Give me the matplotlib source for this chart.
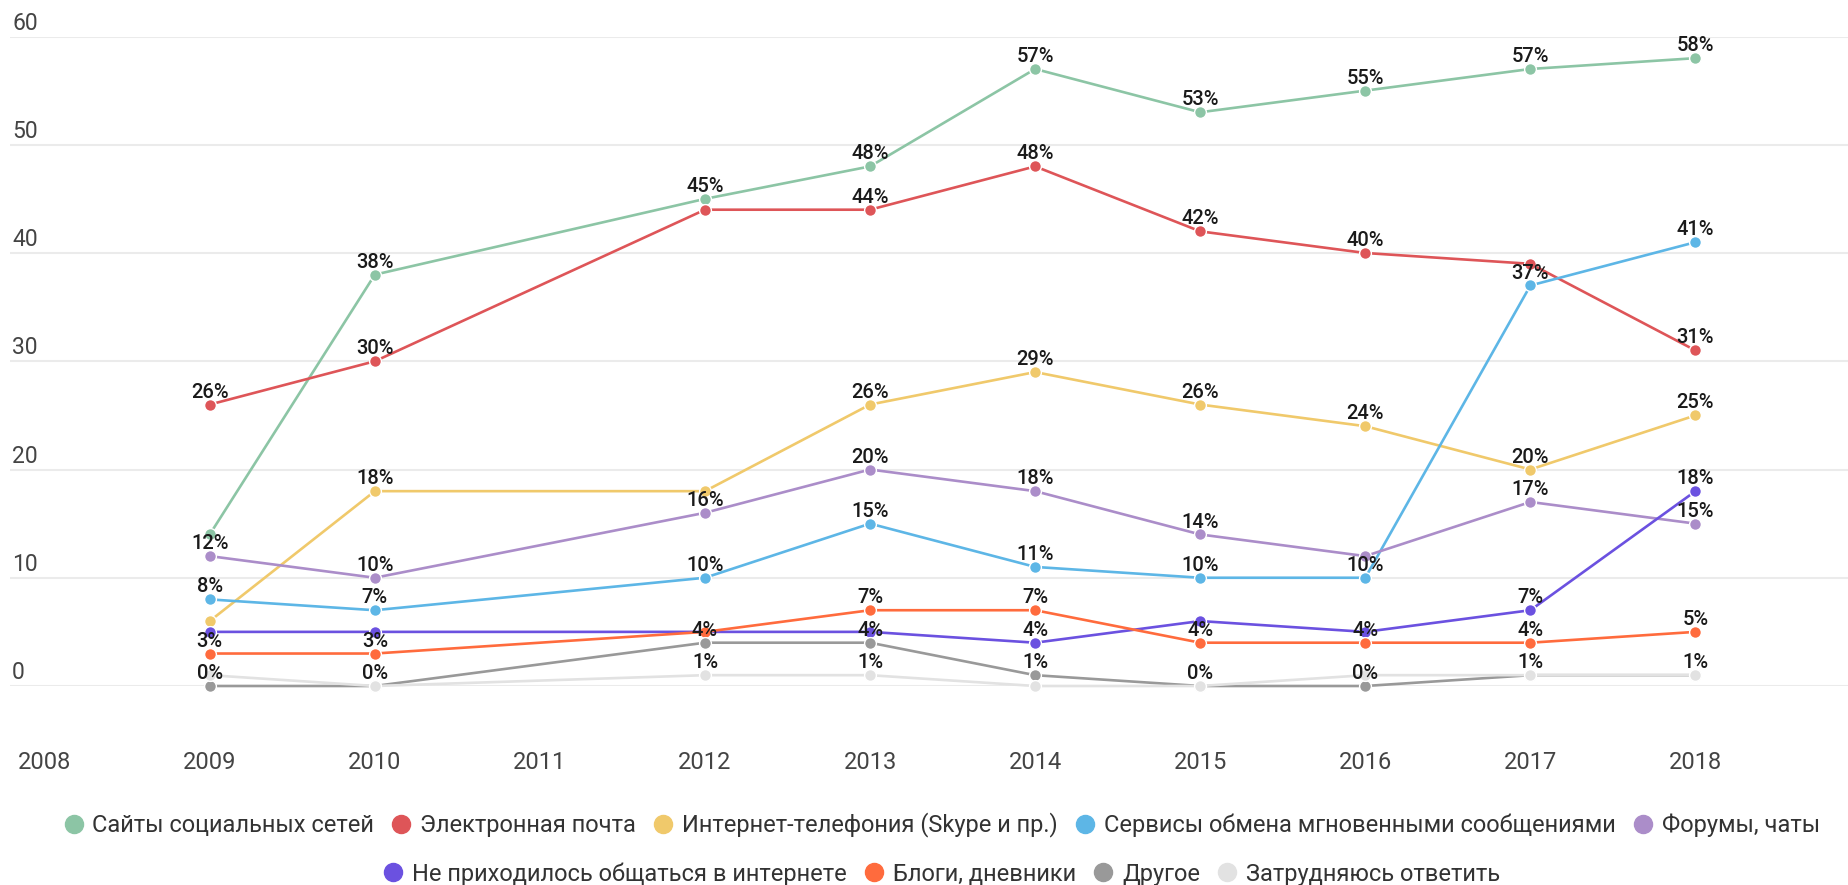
import matplotlib.pyplot as plt
from matplotlib.lines import Line2D
import matplotlib.transforms as mtransforms

plt.rcParams['font.family'] = ['Roboto', 'DejaVu Sans']

years = [2009, 2010, 2012, 2013, 2014, 2015, 2016, 2017, 2018]
tick_years = list(range(2008, 2019))

names = ['Сайты социальных сетей', 'Электронная почта', 'Интернет-телефония (Skype и пр.)',
         'Сервисы обмена мгновенными сообщениями', 'Форумы, чаты',
         'Не приходилось общаться в интернете', 'Блоги, дневники', 'Другое',
         'Затрудняюсь ответить']

social = [14, 38, 45, 48, 57, 53, 55, 57, 58]
email = [26, 30, 44, 44, 48, 42, 40, 39, 31]
voip = [6, 18, 18, 26, 29, 26, 24, 20, 25]
messengers = [8, 7, 10, 15, 11, 10, 10, 37, 41]
forums = [12, 10, 16, 20, 18, 14, 12, 17, 15]
no_online = [5, 5, 5, 5, 4, 6, 5, 7, 18]
blogs = [3, 3, 5, 7, 7, 4, 4, 4, 5]
other = [0, 0, 4, 4, 1, 0, 0, 1, 1]
hard_to_say = [1, 0, 1, 1, 0, 0, 1, 1, 1]

data = [social, email, voip, messengers, forums, no_online, blogs, other, hard_to_say]
colors = ['#8cc5a5', '#de5558', '#f0c96b', '#5db6e6', '#ab8dc9',
          '#6b51e0', '#ff6b3d', '#999999', '#e2e2e2']

# labels the original chart leaves out (overlaps), per year -> series index
hidden = {2009: [0, 2, 5, 8], 2010: [5, 7], 2012: [1, 2, 5, 6], 2013: [5],
          2014: [8], 2015: [5, 7], 2016: [4, 5, 8], 2017: [1, 7], 2018: [7]}

fig = plt.figure(figsize=(18.49, 8.85), dpi=100)
ax = fig.add_axes([10 / 1849, 1 - 686 / 885, 1 - 10 / 1849, (686 - 36.5) / 885])

for i, vals in enumerate(data):
    ax.plot(years, vals, color=colors[i], lw=1.9, marker='o', markersize=8.5,
            markeredgecolor='white', markeredgewidth=1, clip_on=False, zorder=3 + i * 0.1)

for i, vals in enumerate(data):
    for yr, v in zip(years, vals):
        if i in hidden.get(yr, []):
            continue
        ax.annotate(f'{v}%', (yr, v), xytext=(0, 5), textcoords='offset points',
                    ha='center', va='baseline', fontsize=14.5, color='#1a1a1a',
                    weight='medium', zorder=10)

ax.set_xlim(2007.79, 2018.93)
ax.set_ylim(0, 60)
ax.set_xticks(tick_years)
ax.set_xticklabels([str(y) for y in tick_years])
ax.tick_params(axis='x', length=0, pad=47, labelsize=17, labelcolor='#444444')
ax.set_yticks([])
for v in range(0, 61, 10):
    ax.axhline(v, color='#ebebeb', lw=1.5, zorder=1)

trans = mtransforms.blended_transform_factory(ax.transAxes, ax.transData)
for v in range(0, 61, 10):
    ax.annotate(str(v), (0, v), xycoords=trans, xytext=(1.5, 5), textcoords='offset points',
                ha='left', va='baseline', fontsize=16.5, color='#444444')

for s in ax.spines.values():
    s.set_visible(False)

handles = [Line2D([], [], color=c, marker='o', linestyle='none', markersize=13) for c in colors]
fig.legend(handles[:5], names[:5], loc='center', bbox_to_anchor=(0.5095, 1 - 825 / 885),
           ncol=5, frameon=False, fontsize=17, handlelength=0.8, handletextpad=0.4,
           columnspacing=0.75, labelcolor='#333333')
fig.legend(handles[5:], names[5:], loc='center', bbox_to_anchor=(0.5095, 1 - 874 / 885),
           ncol=4, frameon=False, fontsize=17, handlelength=0.8, handletextpad=0.4,
           columnspacing=0.75, labelcolor='#333333')

fig.savefig('out.png', dpi=100)
